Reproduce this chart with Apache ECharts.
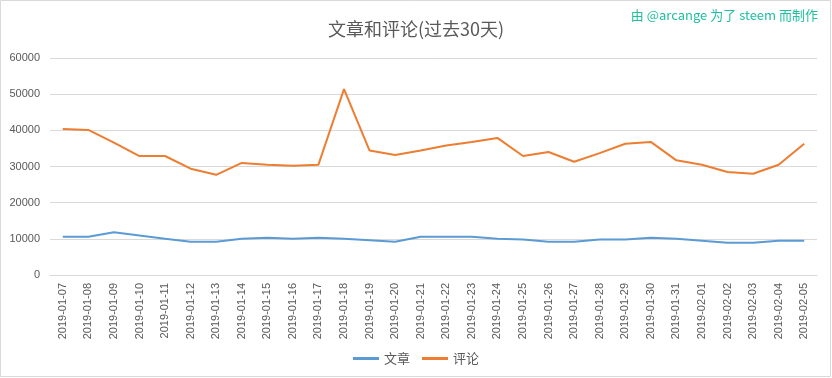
<!DOCTYPE html>
<html>
<head>
<meta charset="utf-8">
<script src="https://cdn.jsdelivr.net/npm/echarts@6/dist/echarts.min.js"></script>
<style>
  html, body { margin: 0; padding: 0; background: #fff; }
  #main { width: 832px; height: 378px; }
</style>
</head>
<body>
<div id="main"></div>
<script>
// dates for the last 30 days
const dates = ['2019-01-07','2019-01-08','2019-01-09','2019-01-10','2019-01-11','2019-01-12','2019-01-13',
  '2019-01-14','2019-01-15','2019-01-16','2019-01-17','2019-01-18','2019-01-19','2019-01-20','2019-01-21',
  '2019-01-22','2019-01-23','2019-01-24','2019-01-25','2019-01-26','2019-01-27','2019-01-28','2019-01-29',
  '2019-01-30','2019-01-31','2019-02-01','2019-02-02','2019-02-03','2019-02-04','2019-02-05'];
// 文章
const posts = [10600, 10600, 11800, 10900, 10000, 9200, 9200, 10000, 10300, 10000, 10300, 10000, 9600, 9200, 10600,
  10600, 10600, 10000, 9800, 9200, 9200, 9800, 9800, 10300, 10000, 9500, 8900, 8900, 9500, 9500];
// 评论
const comments = [40400, 40100, 36600, 32900, 32900, 29400, 27700, 31000, 30500, 30200, 30500, 51400, 34400, 33200, 34400,
  35800, 36800, 37900, 32900, 34000, 31300, 33700, 36300, 36800, 31700, 30500, 28500, 28000, 30500, 36300];

const chart = echarts.init(document.getElementById('main'));
chart.setOption({
  animation: false,
  textStyle: { fontFamily: '"Noto Sans CJK SC", "Liberation Sans", sans-serif' },
  graphic: [
    {
      type: 'rect',
      shape: { x: 0.5, y: 0.5, width: 830, height: 376 },
      style: { fill: 'none', stroke: '#d9d9d9', lineWidth: 1 }
    },
    {
      type: 'text',
      right: 14,
      top: 9,
      style: { text: '由 @arcange 为了 steem 而制作', fill: '#1fbf9f', fontSize: 13,
        fontFamily: '"Noto Sans CJK SC", sans-serif' }
    }
  ],
  title: {
    text: '文章和评论(过去30天)',
    left: 'center',
    top: 15,
    textStyle: { fontSize: 18, fontWeight: 'normal', color: '#595959' }
  },
  legend: {
    bottom: 8,
    left: 'center',
    itemWidth: 26,
    itemHeight: 3,
    itemGap: 12,
    icon: 'rect',
    textStyle: { fontSize: 13, color: '#595959' },
    data: ['文章', '评论']
  },
  grid: { left: 50, right: 15, top: 58, bottom: 103 },
  xAxis: {
    type: 'category',
    data: dates,
    boundaryGap: true,
    axisLine: { lineStyle: { color: '#d9d9d9' } },
    axisTick: { show: false },
    axisLabel: { rotate: 90, interval: 0, fontSize: 11, color: '#595959', margin: 8,
      fontFamily: '"Liberation Sans", sans-serif' }
  },
  yAxis: {
    type: 'value',
    min: 0,
    max: 60000,
    interval: 10000,
    axisLine: { show: false },
    axisTick: { show: false },
    splitLine: { lineStyle: { color: '#d9d9d9' } },
    axisLabel: { fontSize: 11, color: '#595959', margin: 10,
      fontFamily: '"Liberation Sans", sans-serif',
      formatter: function (v) { return String(v); } }
  },
  series: [
    {
      name: '文章',
      type: 'line',
      data: posts,
      symbol: 'none',
      lineStyle: { color: '#5b9bd5', width: 2 },
      itemStyle: { color: '#5b9bd5' }
    },
    {
      name: '评论',
      type: 'line',
      data: comments,
      symbol: 'none',
      lineStyle: { color: '#ed7d31', width: 2 },
      itemStyle: { color: '#ed7d31' }
    }
  ]
});
</script>
</body>
</html>
